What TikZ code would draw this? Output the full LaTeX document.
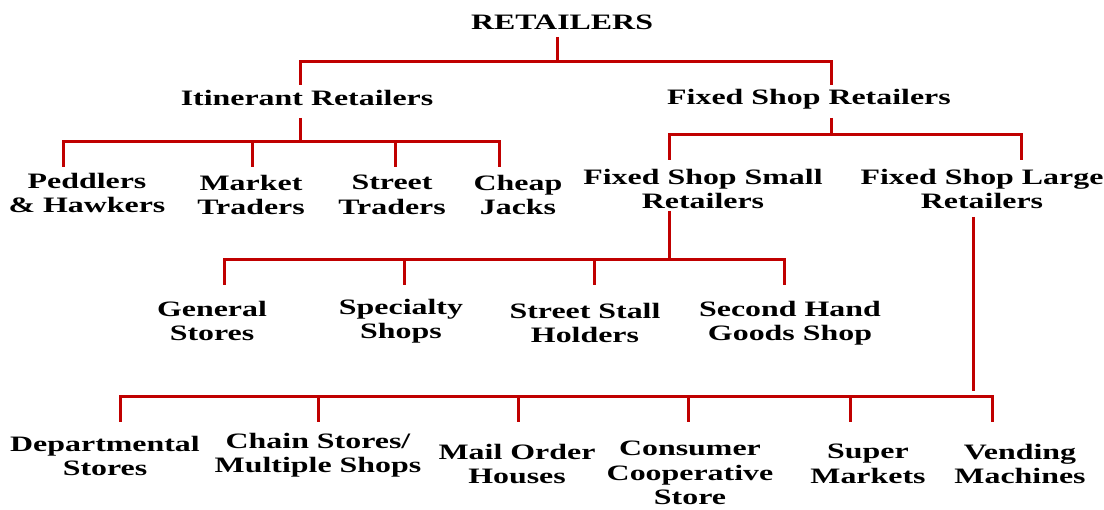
\documentclass[tikz,border=0pt]{standalone}
\usepackage{fontspec}
\setmainfont{Liberation Serif}[FakeStretch=1.45]
\definecolor{linered}{HTML}{C00000}
\begin{document}
\begin{tikzpicture}[x=1pt,y=-1pt,
  lbl/.style={font=\fontsize{22}{24.5}\selectfont\bfseries, align=center, inner sep=0pt},
  conn/.style={draw=linered, line width=3pt}]
\useasboundingbox (0,0) rectangle (1104,510);
% nodes
\node[lbl] (root) at (562,22) {RETAILERS};
\node[lbl] (itin) at (307,98) {Itinerant Retailers};
\node[lbl] (fixed) at (809,99) {Fixed Shop Retailers};
\node[lbl] (ped) at (87,193) {Peddlers\\\& Hawkers};
\node[lbl] (mkt) at (251,195) {Market\\Traders};
\node[lbl] (str) at (392,195) {Street\\Traders};
\node[lbl] (chp) at (518,195) {Cheap\\Jacks};
\node[lbl] (small) at (703,189) {Fixed Shop Small\\Retailers};
\node[lbl] (large) at (982,189) {Fixed Shop Large\\Retailers};
\node[lbl] (gen) at (212,321) {General\\Stores};
\node[lbl] (spec) at (401,321) {Specialty\\Shops};
\node[lbl] (stall) at (585,323) {Street Stall\\Holders};
\node[lbl] (second) at (790,323) {Second Hand\\Goods Shop};
\node[lbl] (dept) at (105,456) {Departmental\\Stores};
\node[lbl] (chain) at (318,455) {Chain Stores/\\Multiple Shops};
\node[lbl] (mail) at (517,464) {Mail Order\\Houses};
\node[lbl] (coop) at (690,473) {Consumer\\Cooperative\\Store};
\node[lbl] (super) at (868,464) {Super\\Markets};
\node[lbl] (vend) at (1020,464) {Vending\\Machines};
% junction coordinates
\coordinate (rs) at (557,37);   \coordinate (rb) at (557,62);
\coordinate (it) at (300,85);   \coordinate (ft) at (831,85);
\coordinate (is) at (300,118);  \coordinate (ib) at (300,142);
\coordinate (c1) at (63,167);   \coordinate (c2) at (252,167);
\coordinate (c3) at (395,167);  \coordinate (c4) at (499,167);
\coordinate (fs) at (831,118);  \coordinate (fb) at (831,135);
\coordinate (st) at (669,160);  \coordinate (lt) at (1021,160);
\coordinate (ss) at (669,211);  \coordinate (sb) at (669,260);
\coordinate (s1) at (224,285);  \coordinate (s2) at (404,285);
\coordinate (s3) at (594,285);  \coordinate (s4) at (784,285);
\coordinate (ls) at (973,217);  \coordinate (le) at (973,391);
\coordinate (lb) at (973,397);
\coordinate (l1) at (120,422);  \coordinate (l2) at (318,422);
\coordinate (l3) at (518,422);  \coordinate (l4) at (688,422);
\coordinate (l5) at (850,422);  \coordinate (l6) at (992,422);
% connectors
\draw[conn] (rs) -- (rb);
\draw[conn] (it) |- (rb) -| (ft);
\draw[conn] (is) -- (ib);
\draw[conn] (c1) |- (ib) -| (c4);
\draw[conn] (c2) -- (c2 |- ib);
\draw[conn] (c3) -- (c3 |- ib);
\draw[conn] (fs) -- (fb);
\draw[conn] (st) |- (fb) -| (lt);
\draw[conn] (ss) -- (sb);
\draw[conn] (s1) |- (sb) -| (s4);
\draw[conn] (s2) -- (s2 |- sb);
\draw[conn] (s3) -- (s3 |- sb);
\draw[conn] (ls) -- (le);
\draw[conn] (l1) |- (lb) -| (l6);
\draw[conn] (l2) -- (l2 |- lb);
\draw[conn] (l3) -- (l3 |- lb);
\draw[conn] (l4) -- (l4 |- lb);
\draw[conn] (l5) -- (l5 |- lb);
\end{tikzpicture}
\end{document}
